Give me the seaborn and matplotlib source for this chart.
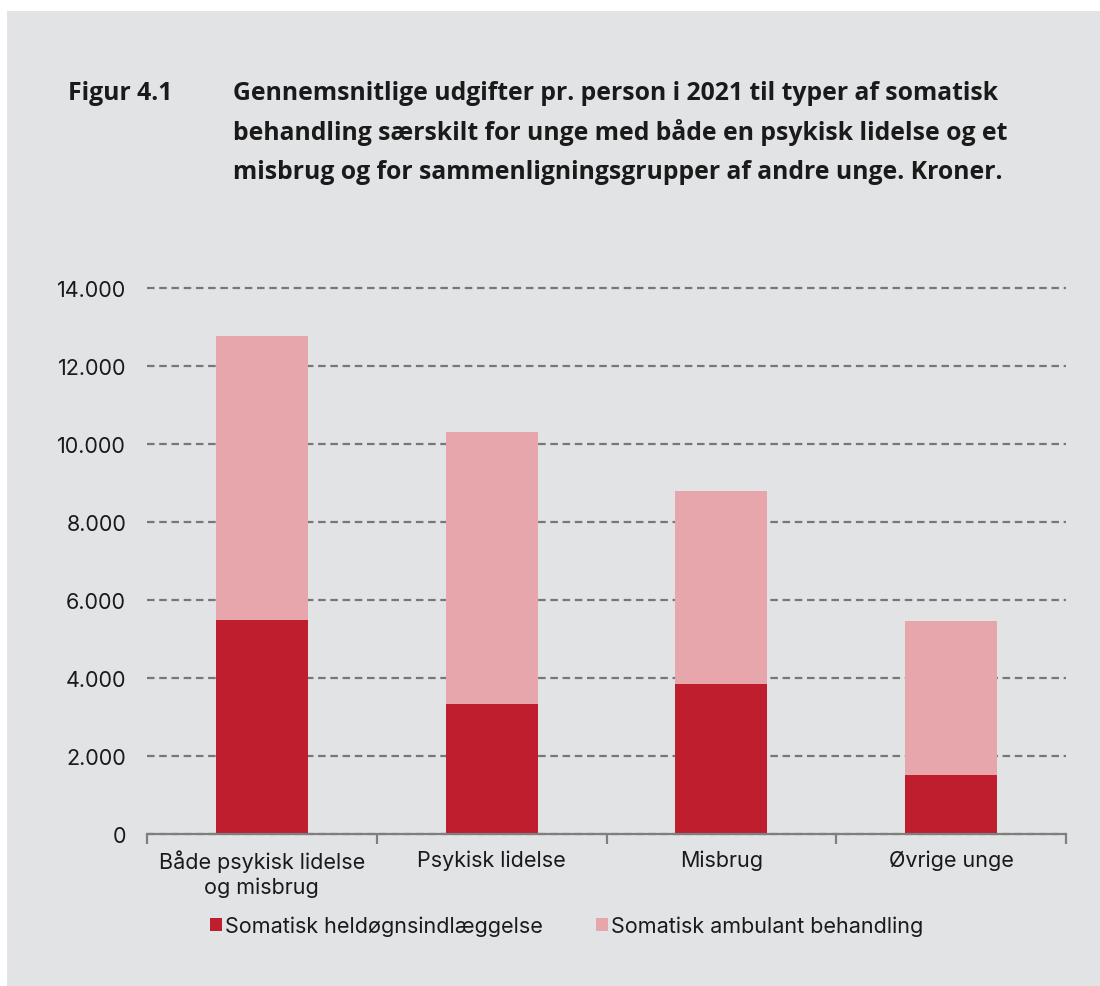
import matplotlib
matplotlib.use("Agg")
import matplotlib.pyplot as plt
from matplotlib.patches import Rectangle, Patch
from matplotlib.ticker import FuncFormatter, FixedLocator
import seaborn as sns
import pandas as pd

# Data (kroner pr. person, 2021)
groups = ['Både psykisk lidelse\nog misbrug', 'Psykisk lidelse', 'Misbrug', 'Øvrige unge']
heldoegn = [5490, 3330, 3850, 1510]
ambulant = [7280, 6980, 4940, 3950]
series_names = ['Somatisk heldøgnsindlæggelse', 'Somatisk ambulant behandling']
yticks = [0, 2000, 4000, 6000, 8000, 10000, 12000, 14000]

dark_red = '#BE1E2D'
light_red = '#E7A6AB'
bg = '#E2E3E5'
txt = '#1A1A1A'

df = pd.DataFrame({'group': groups, 'hel': heldoegn, 'amb': ambulant})
df['total'] = df['hel'] + df['amb']

sns.set_theme(style='white')
plt.rcParams['font.family'] = ['Inter', 'DejaVu Sans']

fig = plt.figure(figsize=(11, 9.87), dpi=100)
fig.patch.set_facecolor('white')
# grey panel behind everything
fig.patches.append(Rectangle((7 / 1100, 0), 1, 1 - 12 / 987, transform=fig.transFigure,
                             facecolor=bg, edgecolor='none', zorder=-10))

ax = fig.add_axes([147 / 1100, 1 - 835 / 987, (1066 - 147) / 1100, (835 - 289) / 987])
ax.set_facecolor(bg)

# stacked bars: total in light colour, bottom part on top in dark colour
sns.barplot(data=df, x='group', y='total', color=light_red, width=0.4, saturation=1, ax=ax, zorder=3)
sns.barplot(data=df, x='group', y='hel', color=dark_red, width=0.4, saturation=1, ax=ax, zorder=4)
for p in ax.patches:
    p.set_edgecolor('none')

ax.set_ylim(0, 14000)
ax.set_xlim(-0.5, len(groups) - 0.5)
ax.set_yticks(yticks)
ax.yaxis.set_major_formatter(FuncFormatter(lambda v, _: f'{int(v):,}'.replace(',', '.')))
ax.set_xlabel('')
ax.set_ylabel('')

ax.grid(axis='y', color='#777777', linestyle=(0, (3.4, 2.1)), linewidth=1.6, zorder=0)
ax.grid(axis='x', visible=False)
ax.set_axisbelow(True)
for gl in ax.get_ygridlines():
    gl.set_clip_on(False)

for s in ['top', 'right', 'left']:
    ax.spines[s].set_visible(False)
ax.spines['bottom'].set_color('#7F7F7F')
ax.spines['bottom'].set_linewidth(1.6)
ax.spines['bottom'].set_zorder(5)

ax.tick_params(axis='y', left=False, length=0, labelsize=15.5, pad=15, labelcolor=txt)
ax.tick_params(axis='x', which='major', length=0, labelsize=15.5, pad=11, labelcolor=txt)
ax.xaxis.set_minor_locator(FixedLocator([i - 0.5 for i in range(len(groups) + 1)]))
ax.tick_params(axis='x', which='minor', bottom=True, length=7, width=1.6, color='#7F7F7F', direction='out')
for lbl in ax.get_xticklabels():
    lbl.set_linespacing(1.25)

# title
title_kw = dict(fontsize=17.8, fontweight='bold', color=txt, family=['Open Sans', 'DejaVu Sans'],
                va='baseline', ha='left')
fig.text(68 / 1100, 1 - 100 / 987, 'Figur 4.1', **title_kw)
title_lines = ['Gennemsnitlige udgifter pr. person i 2021 til typer af somatisk',
               'behandling særskilt for unge med både en psykisk lidelse og et',
               'misbrug og for sammenligningsgrupper af andre unge. Kroner.']
for i, line in enumerate(title_lines):
    fig.text(233 / 1100, 1 - (100 + 39.5 * i) / 987, line, **title_kw)

handles = [Patch(facecolor=dark_red, edgecolor='none'), Patch(facecolor=light_red, edgecolor='none')]
leg = fig.legend(handles, series_names, loc='center left', bbox_to_anchor=(210 / 1100, 1 - 927 / 987),
                 ncol=2, frameon=False, fontsize=15.5, handlelength=0.56, handleheight=0.56,
                 handletextpad=0.15, columnspacing=2.45, borderaxespad=0, borderpad=0)
for t in leg.get_texts():
    t.set_color(txt)

fig.savefig('out.png', dpi=100, facecolor=fig.get_facecolor())
